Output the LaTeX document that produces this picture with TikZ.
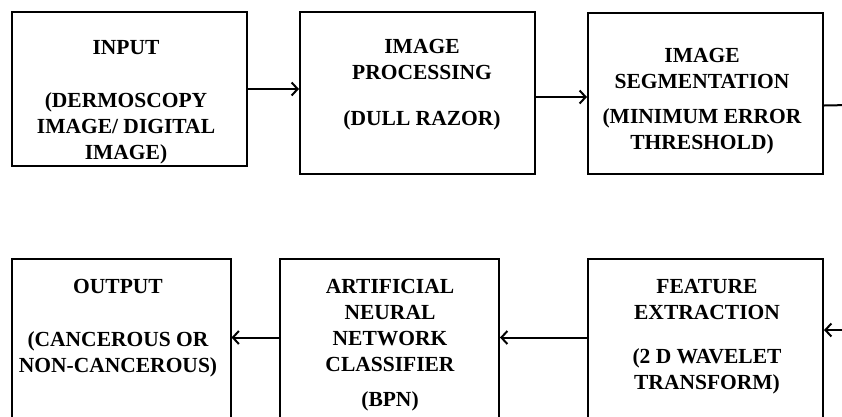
\documentclass[tikz,border=0pt]{standalone}
\usepackage{fontspec}
\setmainfont{Liberation Serif}
\usetikzlibrary{positioning,arrows.meta}
\tikzset{
	blockbox/.style={draw,line width=2pt,minimum width=235pt,inner sep=0pt},
	smallbox/.style={draw,line width=2pt,minimum width=219pt,minimum height=181pt,inner sep=0pt},
	blocktext/.style={font=\fontsize{21.5}{26}\selectfont\bfseries,align=center,anchor=north,inner sep=0pt},
	flow/.style={-{Straight Barb[length=6pt,width=13pt,line width=2pt]},line width=2pt}
}
\begin{document}
\begin{tikzpicture}[x=1pt,y=-1pt]
\useasboundingbox (0,0) rectangle (842,416);
% top row
\node[blockbox,minimum height=154pt,name=input] at (129.5,89){};
\node[blockbox,minimum height=162pt,name=proc] at (417.5,93){};
\node[blockbox,minimum height=161pt,name=seg] at (705.5,93.5){};
% bottom row
\node[smallbox,name=out] at (121,349.5){};
\node[smallbox,name=ann] at (389.5,349.5){};
\node[blockbox,minimum height=181pt,name=feat] at (705.5,349.5){};
% texts
\node[blocktext,name=inputtxt] at (126,40){INPUT\\[27pt](DERMOSCOPY\\IMAGE/ DIGITAL\\IMAGE)};
\node[blocktext,name=proctxt] at (422,39){IMAGE\\PROCESSING\\[20pt](DULL RAZOR)};
\node[blocktext,name=segtxt] at (702,48){IMAGE\\SEGMENTATION\\[9pt](MINIMUM ERROR\hspace*{16pt}\\THRESHOLD)};
\node[blocktext,name=feattxt] at (707,279){FEATURE\\EXTRACTION\\[18pt](2 D WAVELET\\TRANSFORM)};
\node[blocktext,name=anntxt] at (390,279){ARTIFICIAL\\NEURAL\\NETWORK\\CLASSIFIER\\[9pt](BPN)};
\node[blocktext,name=outtxt] at (118,279){OUTPUT\\[27pt](CANCEROUS OR\\NON-CANCEROUS)};
% connectors
\coordinate (rtop) at (850,105);
\coordinate (rbot) at (850,330);
\draw[flow] (input.east) -- (input.east -| proc.west);
\draw[flow] ([yshift=-4pt]proc.east) -- ([yshift=-4pt]proc.east -| seg.west);
\draw[line width=2pt] ([yshift=-12pt]seg.east) -- (rtop);
\draw[flow] (rbot) -- (rbot -| feat.east);
\draw[flow] ([yshift=12pt]feat.west) -- ([yshift=12pt]feat.west -| ann.east);
\draw[flow] ([yshift=12pt]ann.west) -- ([yshift=12pt]ann.west -| out.east);
\end{tikzpicture}
\end{document}
